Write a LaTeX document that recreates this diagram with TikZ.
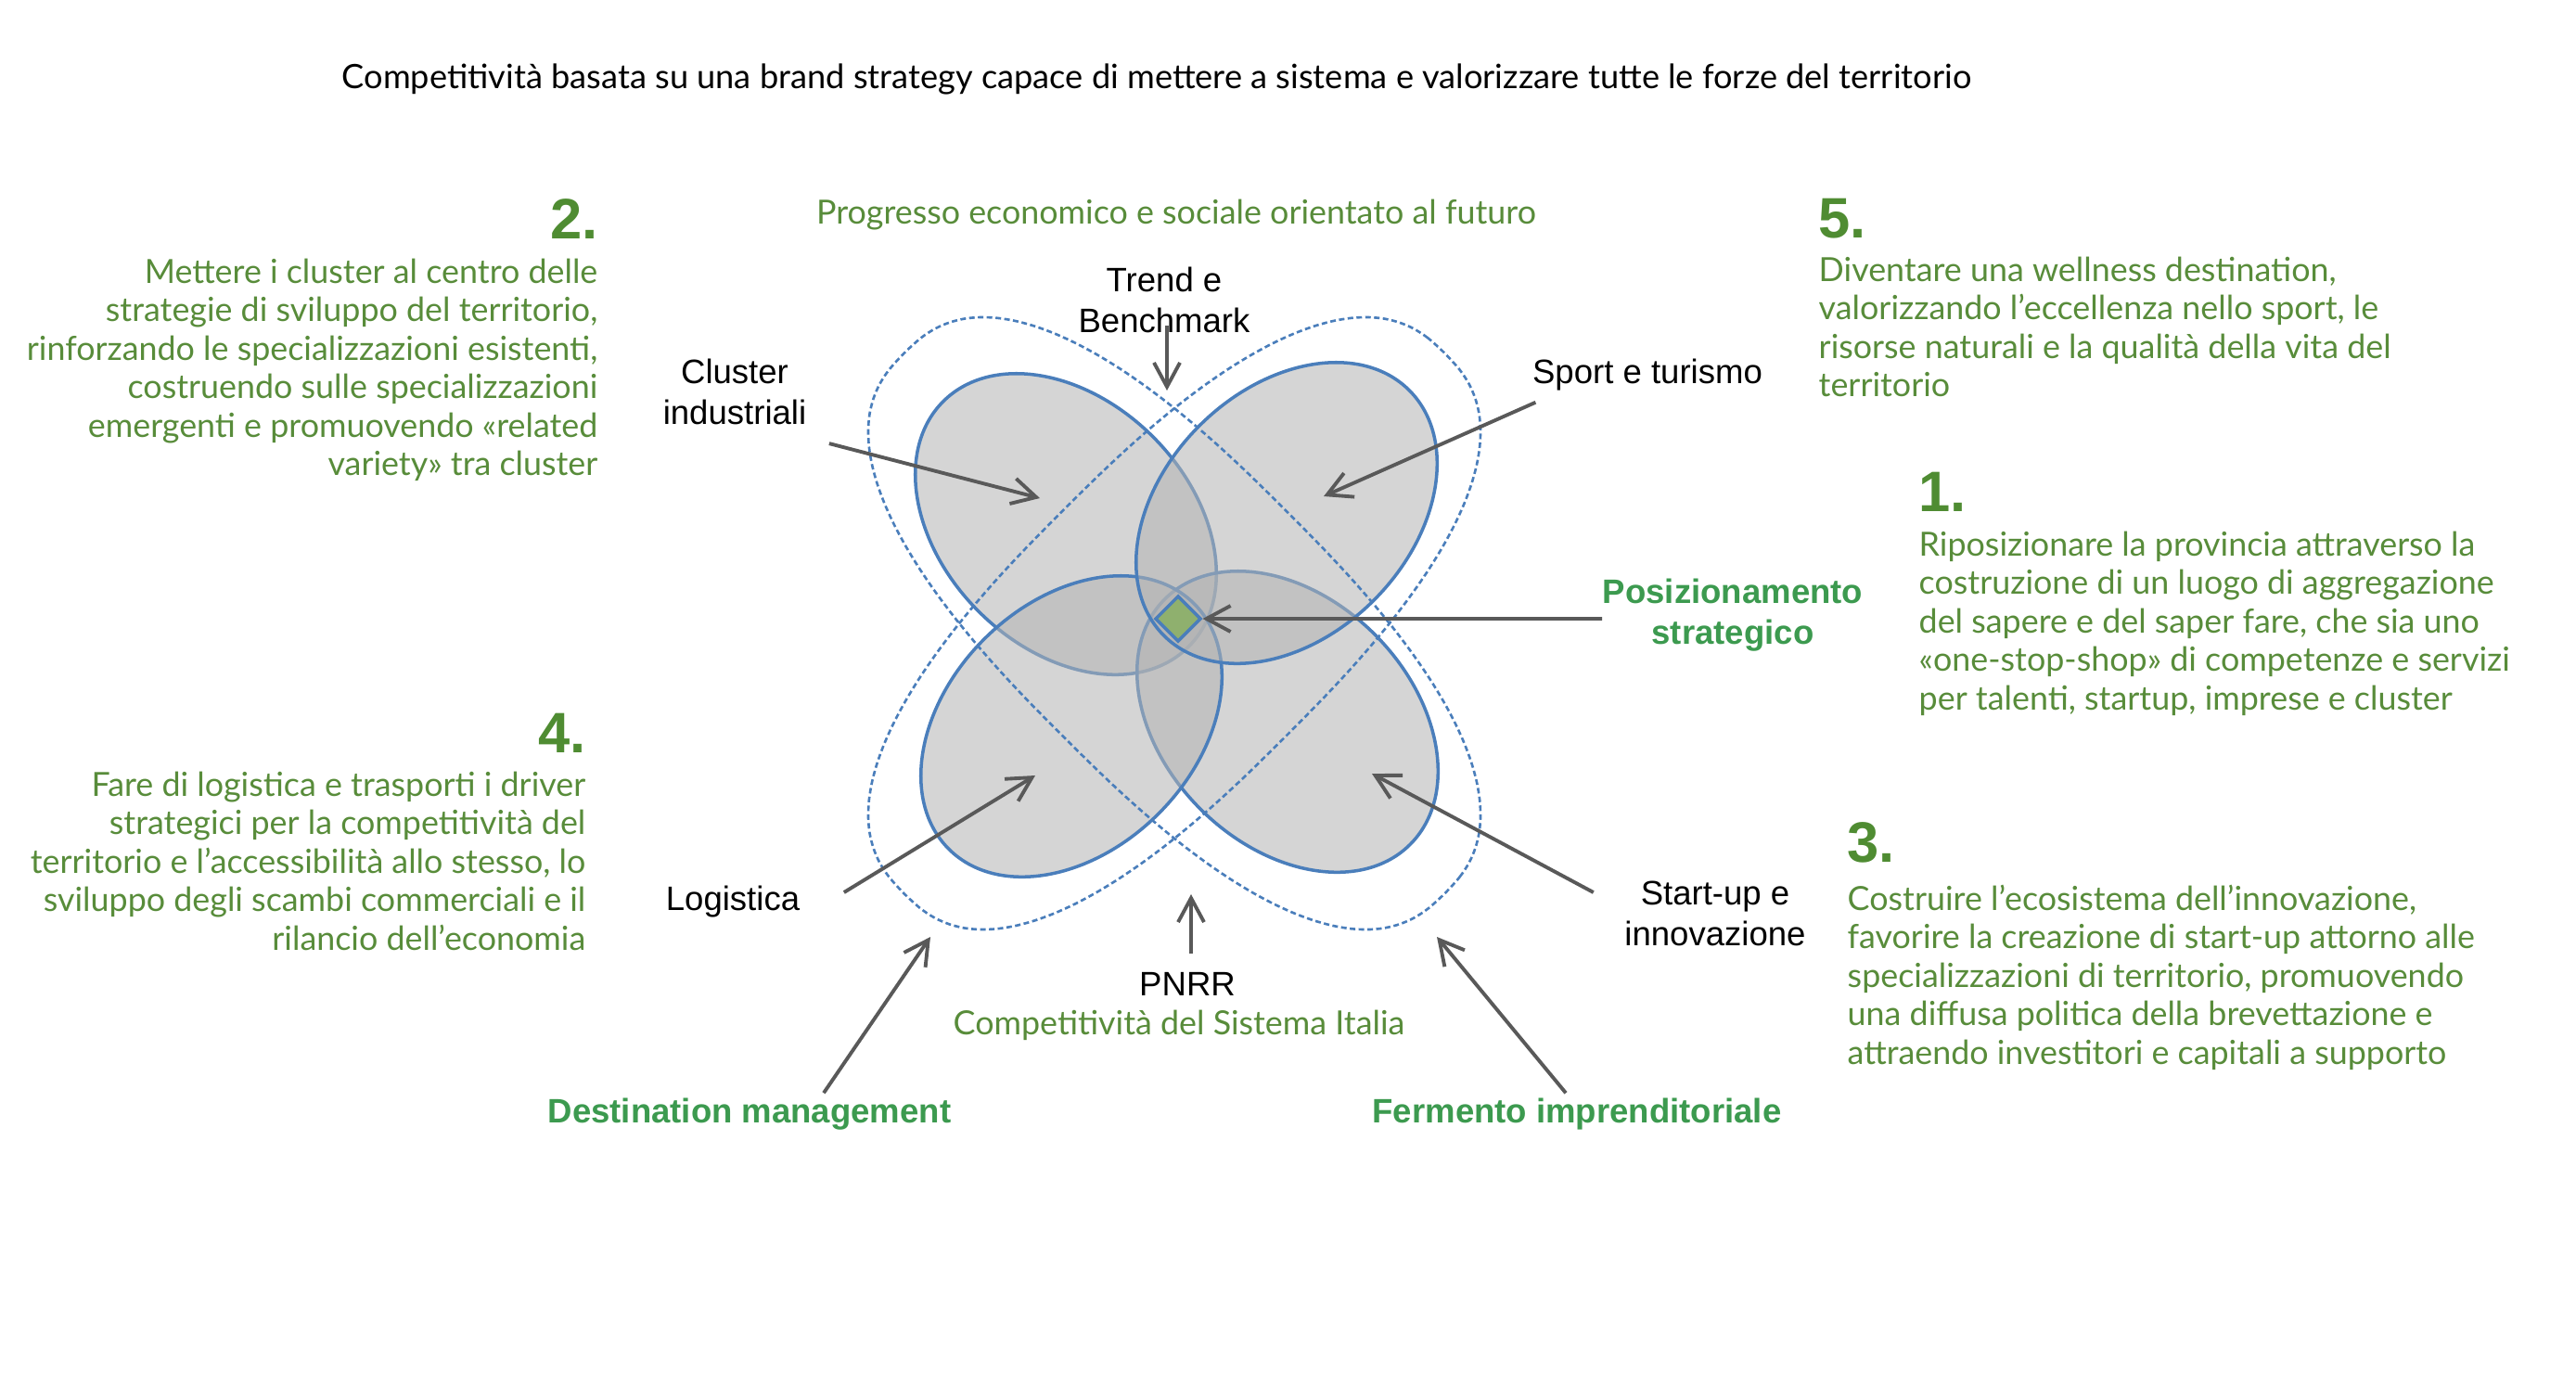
\documentclass[tikz,border=0pt]{standalone}
\usepackage{fontspec}
\usepackage{tikz}
\usetikzlibrary{arrows.meta}
\setmainfont{Lato}
\newfontfamily\arialfont{Liberation Sans}
\definecolor{c1}{HTML}{4A7EBB}
\definecolor{c2}{HTML}{B3B3B3}
\definecolor{c3}{HTML}{588C3A}
\definecolor{c4}{HTML}{3C9A4F}
\definecolor{c5}{HTML}{4F8C32}
\definecolor{c6}{HTML}{595959}
\definecolor{c7}{HTML}{8FB06E}

\begin{document}
\begin{tikzpicture}[
  petal/.style={draw=c1, line width=1pt, fill=c2, fill opacity=0.55},
  halo/.style={draw=c1, line width=0.75pt, dash pattern=on 0.06cm off 0.035cm},
  lbl/.style={font=\arialfont\fontsize{10.4}{12.5}\selectfont, align=center, inner sep=0pt},
  keylbl/.style={font=\arialfont\bfseries\fontsize{10.4}{12.5}\selectfont, text=c4,
                 align=center, inner sep=0pt},
  num/.style={font=\arialfont\bfseries\fontsize{17.5}{20}\selectfont, text=c5, inner sep=0pt},
  body/.style={font=\fontsize{10.2}{11.8}\selectfont, text=c3, inner sep=0pt},
  arr/.style={-{Straight Barb[length=0.26cm,width=0.28cm]}, draw=c6, line width=1.1pt}
]
  \path[use as bounding box, fill=white] (0,0) rectangle (27.77,-14.91);

  % Title
  \node[font=\fontsize{10.3}{11.8}\selectfont, inner sep=0pt] (title) at (12.47,-0.85)
    {Competitività basata su una brand strategy capace di mettere a sistema e valorizzare tutte le forze del territorio};
  \node[body] (progress) at (12.68,-2.32) {Progresso economico e sociale orientato al futuro};

  % Petals
  \draw[petal, rotate around={-45:(11.49,-5.65)}] (11.49,-5.65) ellipse (1.87 and 1.33);
  \draw[petal, rotate around={-45:(13.88,-7.78)}] (13.88,-7.78) ellipse (1.87 and 1.33);
  \draw[petal, rotate around={45:(11.55,-7.83)}]  (11.55,-7.83) ellipse (1.87 and 1.33);
  \draw[petal, rotate around={45:(13.87,-5.53)}]  (13.87,-5.53) ellipse (1.87 and 1.33);
  % Dashed rings
  \foreach \ang in {-45,45}
    \draw[halo, shift={(12.66,-6.72)}, rotate=\ang]
      plot[domain=0:355, samples=72, smooth cycle]
      ({4.12*sign(cos(\x))*abs(cos(\x))^0.8}, {1.71*sign(sin(\x))*abs(sin(\x))^0.8});
  % Core
  \node[draw=c1, fill=c7, line width=1pt, minimum size=0.34cm, rotate=45, inner sep=0pt]
    (core) at (12.70,-6.67) {};

  % Labels round the flower
  \node[lbl] (trend)   at (12.55,-3.23) {Trend e\\Benchmark};
  \node[lbl] (cluster) at (7.92,-4.22)  {Cluster\\industriali};
  \node[lbl] (sport)   at (17.76,-4.04) {Sport e turismo};
  \node[keylbl] (posiz) at (18.68,-6.63) {Posizionamento\\strategico};
  \node[lbl] (logi)    at (7.90,-9.72)  {Logistica};
  \node[lbl] (startup) at (18.49,-9.85) {Start-up e\\innovazione};
  \node[lbl] (pnrr)    at (12.80,-10.61) {PNRR};
  \node[body] (italia) at (12.71,-11.05) {Competitività del Sistema Italia};
  \node[keylbl] (dest) at (8.08,-12.01) {Destination management};
  \node[keylbl] (ferm) at (17.00,-12.01) {Fermento imprenditoriale};

  % Arrow tips
  \coordinate (trtip) at (12.58,-4.21);
  \coordinate (cltip) at (11.21,-5.37);
  \coordinate (sptip) at (14.27,-5.35);
  \coordinate (lgtip) at (11.16,-8.36);
  \coordinate (sutip) at (14.79,-8.34);
  \coordinate (pntip) at (12.84,-9.64);
  \coordinate (dmtip) at (10.03,-10.10);
  \coordinate (fmtip) at (15.49,-10.10);

  \draw[arr] ([yshift=0.08cm]trend.south -| trtip) -- (trtip);
  \draw[arr] ([shift={(0.24,-0.2)}]cluster.south east) -- (cltip);
  \draw[arr] ([shift={(0.04,-0.12)}]sport.south west) -- (sptip);
  \draw[arr] (posiz.west |- core.center) -- (core);
  \draw[arr] ([shift={(0.47,0.1)}]logi.east) -- (lgtip);
  \draw[arr] ([shift={(-0.33,0.23)}]startup.west) -- (sutip);
  \draw[arr] ([yshift=0.2cm]pnrr.north -| pntip) -- (pntip);
  \draw[arr] ([shift={(0.8,0.05)}]dest.north) -- (dmtip);
  \draw[arr] ([shift={(-0.12,0.05)}]ferm.north) -- (fmtip);

  % Left blocks
  \node[num, anchor=east] (n2) at (6.45,-2.36) {2.};
  \node[body, anchor=north east, align=right] (t2) at (6.45,-2.78)
    {Mettere i cluster al centro delle\\strategie di sviluppo del territorio,\\rinforzando le specializzazioni esistenti,\\costruendo sulle specializzazioni\\emergenti e promuovendo «related\\variety» tra cluster};
  \node[num, anchor=east] (n4) at (6.32,-7.90) {4.};
  \node[body, anchor=north east, align=right] (t4) at (6.32,-8.31)
    {Fare di logistica e trasporti i driver\\strategici per la competitività del\\territorio e l'accessibilità allo stesso, lo\\sviluppo degli scambi commerciali e il\\rilancio dell'economia};

  % Right blocks
  \node[num, anchor=west] (n5) at (19.60,-2.36) {5.};
  \node[body, anchor=north west, align=left] (t5) at (19.60,-2.76)
    {Diventare una wellness destination,\\valorizzando l'eccellenza nello sport, le\\risorse naturali e la qualità della vita del\\territorio};
  \node[num, anchor=west] (n1) at (20.68,-5.30) {1.};
  \node[body, anchor=north west, align=left] (t1) at (20.68,-5.72)
    {Riposizionare la provincia attraverso la\\costruzione di un luogo di aggregazione\\del sapere e del saper fare, che sia uno\\«one-stop-shop» di competenze e servizi\\per talenti, startup, imprese e cluster};
  \node[num, anchor=west] (n3) at (19.91,-9.08) {3.};
  \node[body, anchor=north west, align=left] (t3) at (19.91,-9.53)
    {Costruire l'ecosistema dell'innovazione,\\favorire la creazione di start-up attorno alle\\specializzazioni di territorio, promuovendo\\una diffusa politica della brevettazione e\\attraendo investitori e capitali a supporto};
\end{tikzpicture}
\end{document}
